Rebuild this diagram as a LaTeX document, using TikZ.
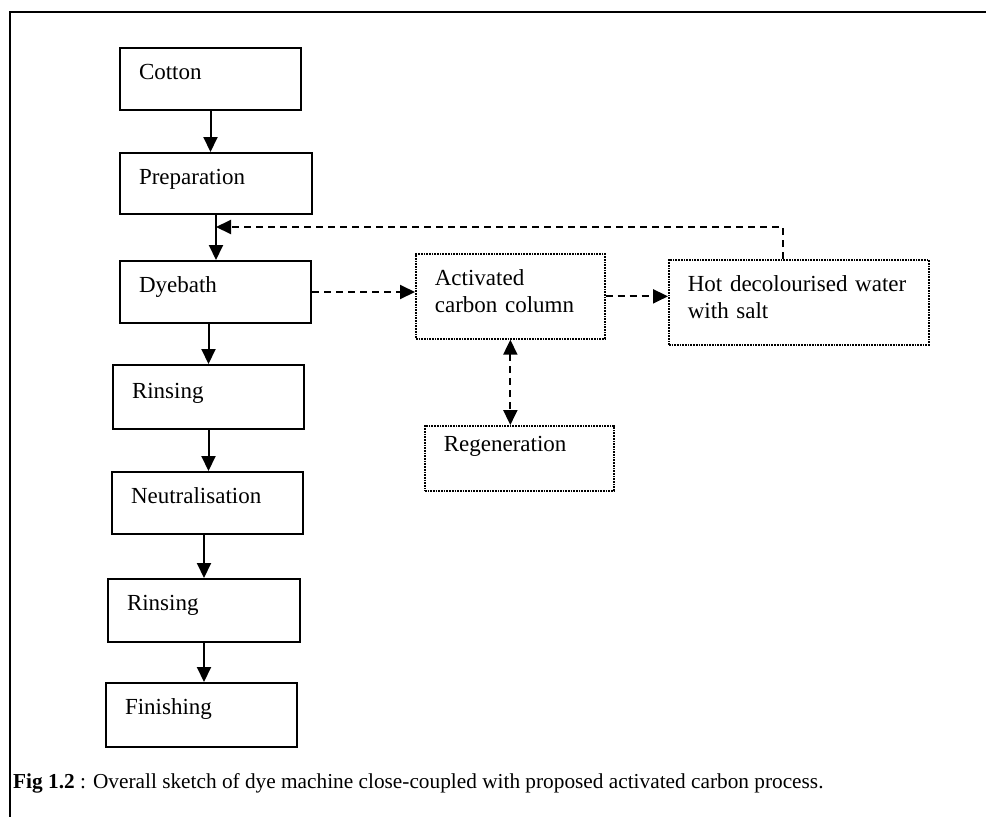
\documentclass[tikz,border=0pt]{standalone}
\usepackage{fontspec}
\setmainfont{Liberation Serif}
\usetikzlibrary{arrows.meta}

\begin{document}
\begin{tikzpicture}[
    x=1pt, y=-1pt,
    stage/.style={rectangle, draw, line width=2pt, anchor=north west, align=left,
        inner xsep=19pt, inner ysep=0pt, text height=31pt, font=\fontsize{23}{27}\selectfont},
    unit/.style={stage, line width=1.7pt, densely dotted},
    arrow/.style={-{Triangle[length=15pt, width=14pt]}, line width=2pt},
    dasharrow/.style={arrow, dash pattern=on 7pt off 5pt},
    caption/.style={anchor=base west, inner sep=0pt, font=\fontsize{21.3}{25}\selectfont}
]
    \useasboundingbox (0,0) rectangle (986,817);

    % Rahmen
    \draw[line width=2pt] (10,817) -- (10,12) -- (986,12);

    % Stufen
    \node[stage, text width=143pt, text depth=31pt] (cotton) at (119,47) {Cotton};
    \node[stage, text width=154pt, text depth=30pt] (prep) at (119,152) {Preparation};
    \node[stage, text width=153pt, text depth=31pt] (dye) at (119,260) {Dyebath};
    \node[stage, text width=153pt, text depth=31pt, text height=33pt] (rinse1) at (112,364) {Rinsing};
    \node[stage, text width=153pt, text depth=31pt] (neutral) at (111,471) {Neutralisation};
    \node[stage, text width=154pt, text depth=32pt] (rinse2) at (107,578) {Rinsing};
    \node[stage, text width=153pt, text depth=33pt] (finish) at (105,682) {Finishing};

    % Aktivkohle
    \node[unit, text width=151pt, text height=32pt, text depth=53pt] (column) at (415,253) {Activated\\carbon column};
    \node[unit, text width=222pt, text height=32pt, text depth=53pt] (hotwater) at (668,259) {Hot decolourised water\\with salt};
    \node[unit, text width=151pt, text height=26pt, text depth=39pt] (regen) at (424,425) {Regeneration};

    % Fluss
    \draw[arrow] (cotton.south) -- (cotton.south |- prep.north);
    \draw[arrow] (prep.south) -- (prep.south |- dye.north);
    \draw[arrow] (dye.south -| rinse1.north) -- (rinse1.north);
    \draw[arrow] (rinse1.south) -- (rinse1.south |- neutral.north);
    \draw[arrow] (neutral.south -| rinse2.north) -- (rinse2.north);
    \draw[arrow] (rinse2.south) -- (rinse2.south |- finish.north);

    \draw[dasharrow] (dye.east) -- (dye.east -| column.west);
    \draw[dasharrow] (column.east) -- (column.east -| hotwater.west);
    \draw[dasharrow, {Triangle[length=15pt, width=14pt]}-{Triangle[length=15pt, width=14pt]}] (column.south) -- (column.south |- regen.north);

    % Rueckfuehrung
    \path (prep.south) ++(0,12) coordinate (merge);
    \draw[dasharrow] ([xshift=-16pt]hotwater.north) |- (merge);

    % Bildunterschrift
    \node[caption] (cap) at (13,788) {\textbf{Fig 1.2} : Overall sketch of dye machine close-coupled with proposed activated carbon process.};
\end{tikzpicture}
\end{document}
